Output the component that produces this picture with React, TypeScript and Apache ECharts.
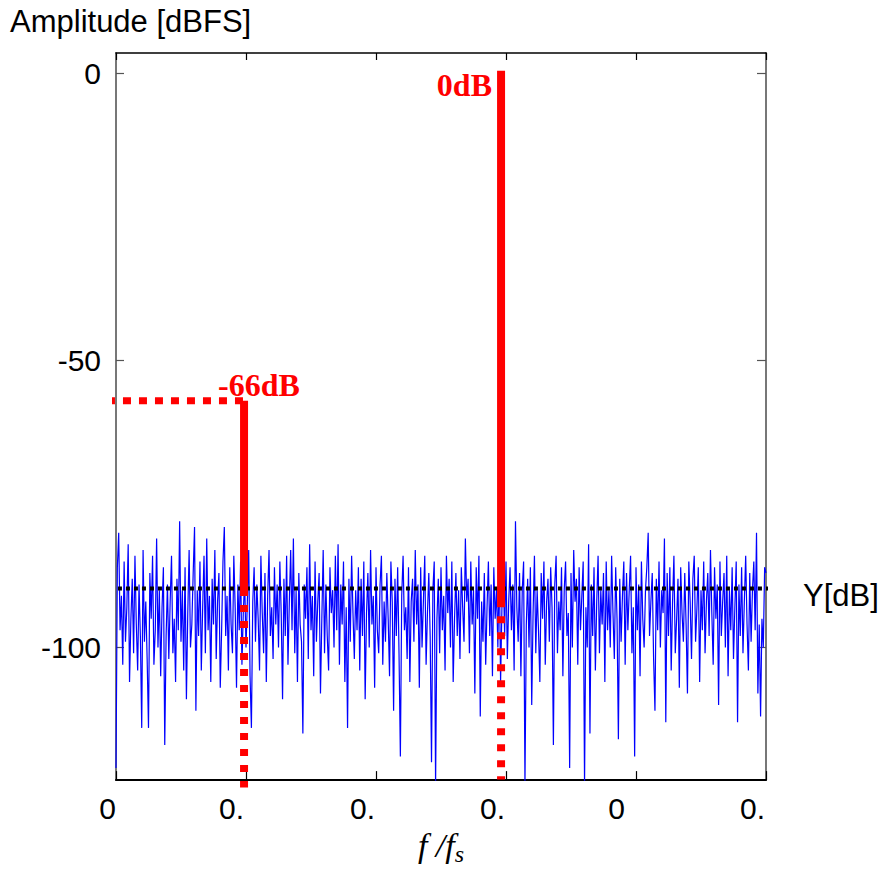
import React, { useEffect, useRef } from 'react';
import * as echarts from 'echarts';

// ---- data ----
const freqTicks = [0, 0.1, 0.2, 0.3, 0.4, 0.5];
const freqTickLabels = ['0', '0.', '0.', '0.', '0', '0.'];
const ampTicks = [0, -50, -100];
const ampTickLabels = ['0', '-50', '-100'];
const freqRange = [0, 0.5];
const ampRange = [-123.1, 3.6];

const noiseDb = [
  -121, -86, -80, -97, -91, -103, -85, -99, -93, -82, -106, -95, -88, -101, -84, -96, -104, -89, -98, -114,
  -83, -99, -92, -102, -114, -87, -95, -84, -103, -97, -81, -100, -90, -105, -93, -86, -117, -98, -89, -102,
  -92, -84, -101, -95, -106, -88, -97, -78, -99, -90, -104, -86, -109, -94, -83, -100, -96, -87, -79, -111,
  -90, -98, -85, -104, -93, -84, -101, -81, -97, -91, -106, -88, -96, -83, -102, -92, -87, -107, -97, -85,
  -79, -98, -91, -104, -86, -96, -101, -84, -93, -107, -89, -97, -85, -103, -94, -88, -100, -92, -83, -105,
  -114, -92, -86, -99, -89, -95, -104, -84, -94, -101, -87, -106, -91, -83, -98, -93, -102, -86, -96, -89,
  -100, -85, -94, -109, -88, -98, -84, -103, -92, -83, -97, -81, -101, -90, -106, -87, -96, -99, -115, -89,
  -95, -86, -102, -82, -97, -91, -105, -85, -99, -92, -87, -108, -95, -83, -101, -89, -98, -104, -86, -94,
  -90, -100, -84, -97, -82, -103, -89, -96, -85, -106, -93, -114, -88, -99, -84, -94, -102, -90, -97, -86,
  -104, -88, -98, -85, -109, -94, -87, -100, -83, -96, -91, -107, -86, -97, -101, -89, -84, -103, -92, -99,
  -87, -95, -105, -85, -92, -111, -88, -98, -86, -101, -119, -91, -84, -97, -93, -102, -86, -106, -92, -88,
  -99, -83, -96, -89, -107, -86, -100, -92, -84, -103, -94, -87, -98, -120, -90, -85, -124, -95, -88, -101,
  -86, -97, -91, -104, -84, -94, -88, -100, -85, -106, -95, -87, -98, -90, -102, -86, -93, -99, -81, -92,
  -88, -101, -85, -96, -90, -108, -86, -95, -84, -112, -92, -99, -87, -103, -93, -85, -98, -89, -105, -86,
  -95, -90, -100, -84, -106, -93, -87, -98, -85, -102, -92, -86, -97, -89, -104, -78, -93, -99, -87, -105,
  -90, -85, -124, -96, -88, -100, -86, -110, -94, -84, -101, -90, -97, -106, -87, -95, -85, -103, -92, -88,
  -99, -86, -93, -117, -89, -84, -101, -92, -97, -86, -105, -90, -85, -98, -94, -121, -87, -100, -83, -92,
  -88, -103, -86, -97, -91, -85, -124, -93, -100, -82, -115, -89, -98, -86, -104, -92, -84, -101, -90, -96,
  -87, -106, -85, -97, -90, -100, -84, -94, -102, -86, -95, -116, -88, -99, -91, -85, -103, -87, -97, -90,
  -84, -101, -93, -119, -86, -97, -89, -105, -85, -95, -100, -90, -86, -80, -98, -92, -87, -102, -111, -88,
  -97, -85, -100, -90, -94, -81, -113, -87, -98, -86, -104, -92, -84, -101, -95, -88, -107, -86, -94, -99,
  -87, -96, -108, -85, -92, -102, -88, -84, -99, -93, -86, -106, -90, -97, -85, -101, -92, -87, -98, -83,
  -94, -103, -86, -95, -89, -110, -85, -98, -92, -87, -100, -84, -105, -90, -97, -86, -102, -93, -85, -113,
  -89, -98, -86, -101, -92, -84, -96, -104, -87, -99, -90, -85, -97, -80, -108, -96, -112, -95, -100, -86,
  -87,
];
const noiseBinWidth = 0.5 / 480;

const toneFreq = [0.0985, 0.2962];
const tonePeakDb = [-57, 0.5];
const toneSolidEndDb = [-91, -93];
const toneDottedEndDb = [-124.4, -123];
const toneLabels = ['-66dB', '0dB'];
const noiseFloorDb = -89.7;
const noiseFloorSpan = [0.0015, 0.5215];
const markerStartFreq = -0.0031;

// ---- styles ----
const SANS = 'Liberation Sans, Arial, sans-serif';
const SERIF = 'Liberation Serif, Times New Roman, serif';
const xLabelPadRight = [0, 2, 1, 1, 11, 1];

export default function App() {
  const ref = useRef<HTMLDivElement>(null);

  useEffect(() => {
    if (!ref.current) return;
    const chart = echarts.init(ref.current, null, { renderer: 'svg' });

    const rich: Record<string, any> = {};
    freqTickLabels.forEach((_, i) => {
      rich['p' + i] = {
        fontFamily: SANS,
        fontSize: 30,
        color: '#000',
        padding: [0, xLabelPadRight[i], 0, 0],
      };
    });

    const redDotted = (i: number) => ({
      type: 'line',
      data: [
        [toneFreq[i], toneSolidEndDb[i]],
        [toneFreq[i], toneDottedEndDb[i]],
      ],
      showSymbol: false,
      clip: false,
      z: 4,
      lineStyle: { color: '#ff0000', width: 8, type: [7, 9], dashOffset: 7, cap: 'butt' },
      silent: true,
    });
    const redSolid = (i: number) => ({
      type: 'line',
      data: [
        [toneFreq[i], tonePeakDb[i]],
        [toneFreq[i], toneSolidEndDb[i]],
      ],
      showSymbol: false,
      clip: false,
      z: 5,
      lineStyle: { color: '#ff0000', width: 8, cap: 'butt' },
      silent: true,
    });

    const option: any = {
      animation: false,
      backgroundColor: '#fff',
      grid: { left: 116, right: 118, top: 53, bottom: 82, containLabel: false },
      xAxis: [
        {
          type: 'value',
          min: freqRange[0],
          max: freqRange[1],
          position: 'bottom',
          name: '{a|f /f}{b|s}',
          nameLocation: 'middle',
          nameGap: 38,
          nameTextStyle: {
            rich: {
              a: { fontFamily: SERIF, fontStyle: 'italic', fontSize: 34, color: '#000' },
              b: { fontFamily: SERIF, fontStyle: 'italic', fontSize: 24, color: '#000', padding: [18, 0, 0, 0] },
            },
          },
          axisLine: { show: true, onZero: false, lineStyle: { color: '#000', width: 2 } },
          axisTick: { show: true, inside: true, length: 9, customValues: freqTicks, lineStyle: { color: '#000', width: 1.2 } },
          axisLabel: {
            customValues: freqTicks,
            align: 'right',
            margin: 13,
            formatter: (v: number) => {
              const i = freqTicks.findIndex((t) => Math.abs(t - v) < 1e-9);
              return i < 0 ? '' : '{p' + i + '|' + freqTickLabels[i] + '}';
            },
            rich,
          },
          splitLine: { show: false },
        },
        {
          type: 'value',
          min: freqRange[0],
          max: freqRange[1],
          position: 'top',
          axisLine: { show: true, onZero: false, lineStyle: { color: '#000', width: 1.5 } },
          axisTick: { show: true, inside: true, length: 7, customValues: freqTicks, lineStyle: { color: '#000', width: 1.2 } },
          axisLabel: { show: false },
          splitLine: { show: false },
        },
      ],
      yAxis: [
        {
          type: 'value',
          min: ampRange[0],
          max: ampRange[1],
          position: 'left',
          axisLine: { show: true, onZero: false, lineStyle: { color: '#777', width: 2 } },
          axisTick: { show: true, inside: true, length: 8, customValues: ampTicks, lineStyle: { color: '#555', width: 1.2 } },
          axisLabel: {
            customValues: ampTicks,
            margin: 15,
            color: '#000',
            fontFamily: SANS,
            fontSize: 30,
            formatter: (v: number) => {
              const i = ampTicks.findIndex((t) => Math.abs(t - v) < 1e-9);
              return i < 0 ? '' : ampTickLabels[i];
            },
          },
          splitLine: { show: false },
        },
        {
          type: 'value',
          min: ampRange[0],
          max: ampRange[1],
          position: 'right',
          axisLine: { show: true, onZero: false, lineStyle: { color: '#777', width: 2 } },
          axisTick: { show: true, inside: true, length: 9, customValues: ampTicks, lineStyle: { color: '#555', width: 1.2 } },
          axisLabel: { show: false },
          splitLine: { show: false },
        },
      ],
      series: [
        {
          type: 'line',
          data: noiseDb.map((v, i) => [i * noiseBinWidth, v]),
          showSymbol: false,
          z: 2,
          lineStyle: { color: '#0000ff', width: 1.2 },
          silent: true,
        },
        {
          type: 'line',
          data: [
            [noiseFloorSpan[0], noiseFloorDb],
            [noiseFloorSpan[1], noiseFloorDb],
          ],
          showSymbol: false,
          clip: false,
          z: 3,
          lineStyle: { color: '#000', width: 4, type: [4, 4], cap: 'butt' },
          silent: true,
        },
        {
          type: 'line',
          data: [
            [markerStartFreq, tonePeakDb[0]],
            [toneFreq[0], tonePeakDb[0]],
          ],
          showSymbol: false,
          clip: false,
          z: 4,
          lineStyle: { color: '#ff0000', width: 7, type: [8, 8], dashOffset: 5, cap: 'butt' },
          silent: true,
        },
        redDotted(0),
        redDotted(1),
        redSolid(0),
        redSolid(1),
      ],
      graphic: [
        {
          type: 'text',
          left: 10,
          top: 6,
          style: { text: 'Amplitude [dBFS]', fontFamily: SANS, fontSize: 31, fill: '#000' },
        },
        {
          type: 'text',
          x: 803,
          y: 595,
          style: { text: 'Y[dB]', fontFamily: SANS, fontSize: 31, fill: '#000', verticalAlign: 'middle', align: 'left' },
        },
        {
          type: 'text',
          x: 492,
          y: 85,
          style: { text: toneLabels[1], fontFamily: SERIF, fontWeight: 'bold', fontSize: 32, fill: '#ff0000', verticalAlign: 'middle', align: 'right' },
        },
        {
          type: 'text',
          x: 218,
          y: 385,
          style: { text: toneLabels[0], fontFamily: SERIF, fontWeight: 'bold', fontSize: 32, fill: '#ff0000', verticalAlign: 'middle', align: 'left' },
        },
      ],
    };

    chart.setOption(option);
    return () => chart.dispose();
  }, []);

  return (
    <div
      ref={ref}
      style={{ position: 'fixed', left: 0, top: 0, width: 884, height: 871, background: '#fff' }}
    />
  );
}
